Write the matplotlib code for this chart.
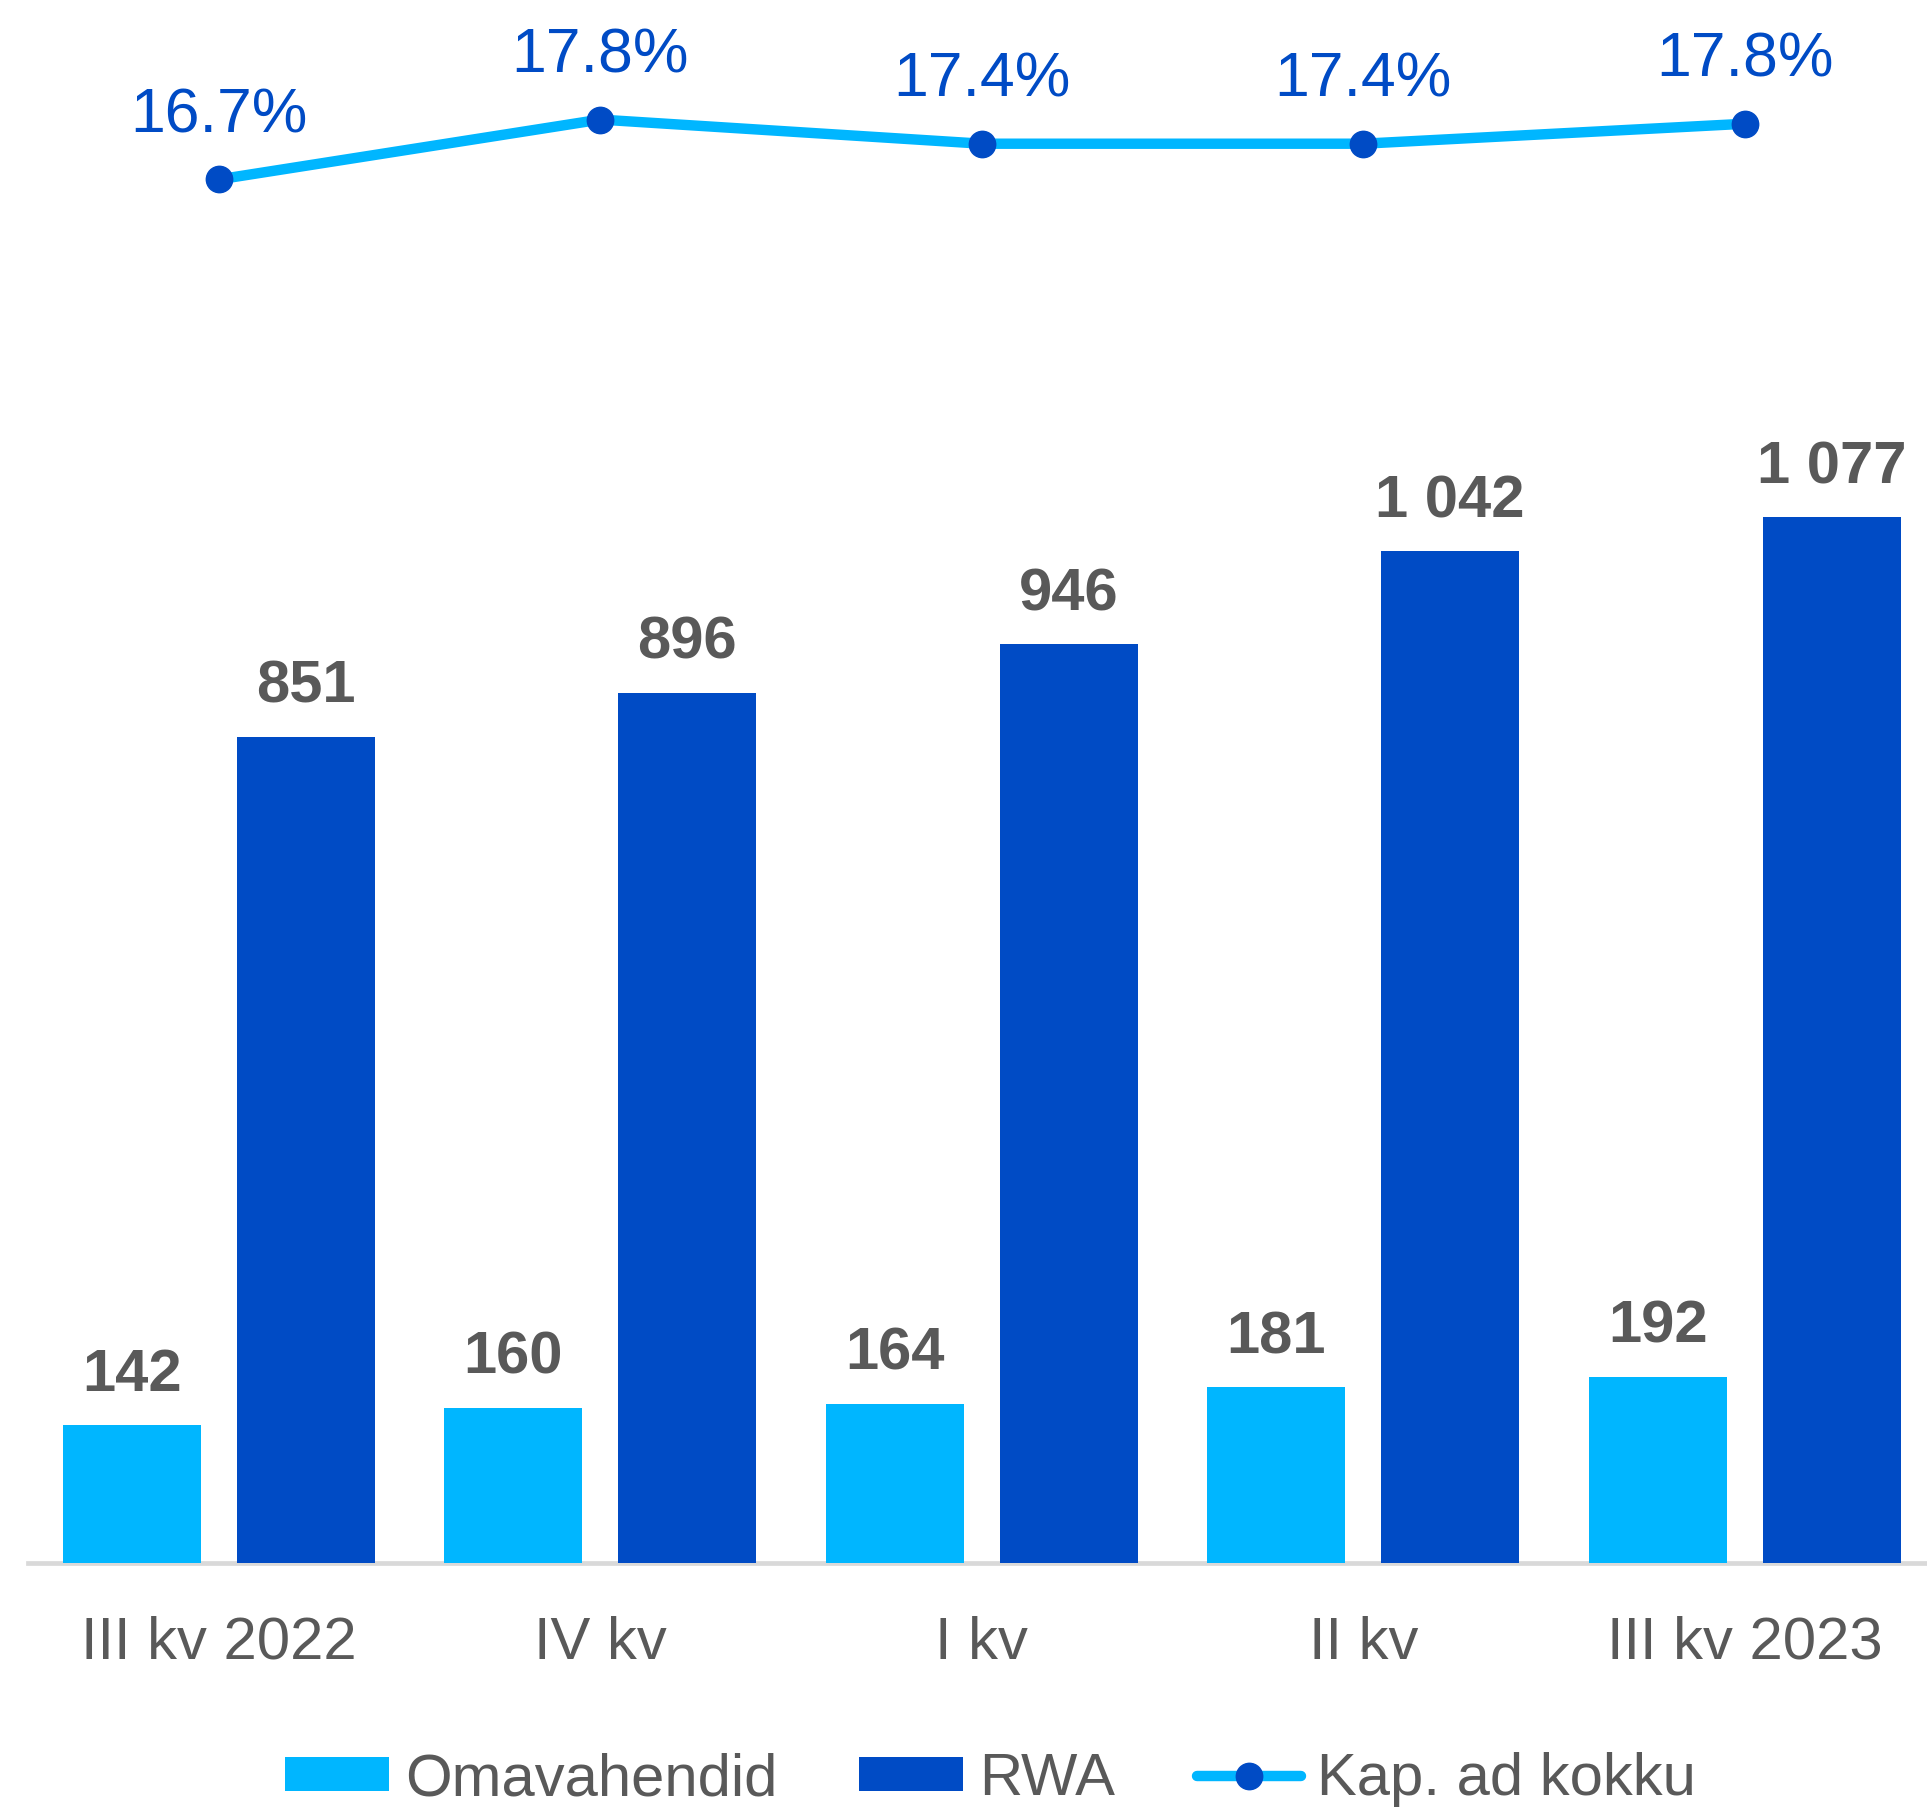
import matplotlib
matplotlib.use("Agg")
import matplotlib.pyplot as plt
import numpy as np

plt.rcParams['font.family'] = ['Liberation Sans', 'DejaVu Sans']

categories = ["III kv 2022", "IV kv", "I kv", "II kv", "III kv 2023"]
omavahendid = [142, 160, 164, 181, 192]
rwa = [851, 896, 946, 1042, 1077]
kap_ad = [16.7, 17.84, 17.38, 17.38, 17.76]

C_LIGHT = "#00B6FF"
C_DARK = "#004BC5"
C_TEXT = "#595959"

W, H = 1927, 1810
fig = plt.figure(figsize=(W / 100, H / 100), dpi=100)

ax_left = 28 / W
ax_bottom = (H - 1563) / H
ax_width = 1907.5 / W
ax_height = 1563 / H
ax = fig.add_axes([ax_left, ax_bottom, ax_width, ax_height])

x = np.arange(len(categories))
bw = 0.362
off = 0.228
b1 = ax.bar(x - off, omavahendid, bw, color=C_LIGHT, label="Omavahendid", zorder=3)
b2 = ax.bar(x + off, rwa, bw, color=C_DARK, label="RWA", zorder=3)

def fmt(v):
    return f"{v:,}".replace(",", " ")

for xi, v in zip(x - off, omavahendid):
    ax.annotate(fmt(v), (xi, v), xytext=(0, 24.5), textcoords="offset points",
                ha="center", va="baseline", fontsize=43, fontweight="bold", color=C_TEXT)
for xi, v in zip(x + off, rwa):
    ax.annotate(fmt(v), (xi, v), xytext=(0, 24.5), textcoords="offset points",
                ha="center", va="baseline", fontsize=43, fontweight="bold", color=C_TEXT)

ax.set_xlim(-0.5, 4.5)
ax.set_ylim(0, 1609.6)
ax.set_xticks(x)
ax.set_xticklabels(categories, fontsize=43, color=C_TEXT)
ax.tick_params(axis="x", length=0, pad=38)
ax.set_yticks([])
for s in ["top", "left", "right"]:
    ax.spines[s].set_visible(False)
ax.spines["bottom"].set_color("#D9D9D9")
ax.spines["bottom"].set_linewidth(3.4)
ax.spines["bottom"].set_zorder(2)

ax2 = ax.twinx()
ax2.set_ylim(-9.65, 20.117)
ln, = ax2.plot(x, kap_ad, color=C_LIGHT, lw=7.5, marker="o", markersize=19,
               markerfacecolor=C_DARK, markeredgecolor=C_DARK, label="Kap. ad kokku",
               solid_capstyle="round", zorder=4)
for xi, v in zip(x, kap_ad):
    ax2.annotate(f"{v:.1f}%", (xi, v), xytext=(0, 34), textcoords="offset points",
                 ha="center", va="baseline", fontsize=45, color=C_DARK)
ax2.set_yticks([])
for s in ["top", "left", "right", "bottom"]:
    ax2.spines[s].set_visible(False)

leg = fig.legend(handles=[b1, b2, ln], labels=["Omavahendid", "RWA", "Kap. ad kokku"],
                 loc="center", bbox_to_anchor=(0.514, 0.0168), ncol=3, frameon=False,
                 fontsize=43, handlelength=1.75, handleheight=0.52, handletextpad=0.27,
                 columnspacing=1.36, borderpad=0, borderaxespad=0, numpoints=1)
for t in leg.get_texts():
    t.set_color(C_TEXT)

fig.savefig("out.png", dpi=100)
